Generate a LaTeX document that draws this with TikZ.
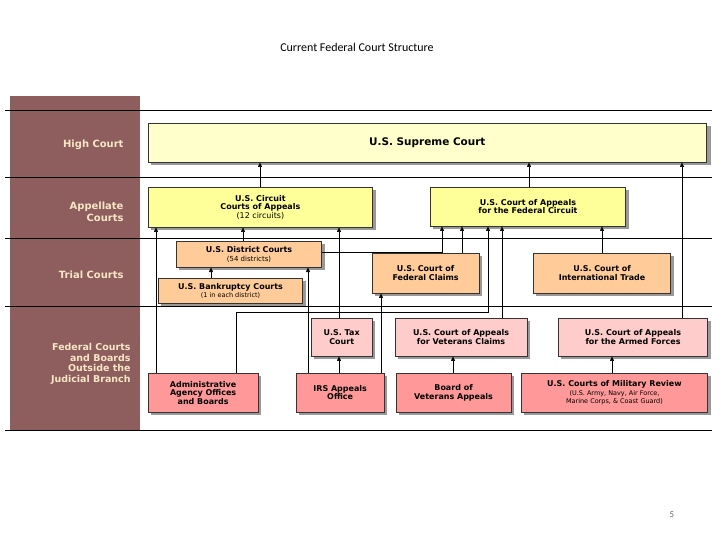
\documentclass[tikz,border=0pt]{standalone}
\usepackage{fontspec}
\setmainfont{DejaVu Sans}
\newfontfamily\titlefont{Carlito}
\usetikzlibrary{arrows.meta}
\definecolor{panel}{HTML}{8E5E5E}
\definecolor{paneltxt}{HTML}{F5E6C4}
\definecolor{ylight}{HTML}{FFFFCC}
\definecolor{ymid}{HTML}{FFFF99}
\definecolor{orng}{HTML}{FFCC99}
\definecolor{pinkl}{HTML}{FFCCCC}
\definecolor{pinkd}{HTML}{FF9999}
\begin{document}
\begin{tikzpicture}[x=1bp,y=-1bp,
  bx/.style={draw=black!80,line width=0.6pt,inner sep=0pt,align=center,font=\bfseries\fontsize{8}{8.6}\selectfont,
    drop shadow/.style={}},
  sh/.style={fill=black!35},
  lbl/.style={text=paneltxt,font=\bfseries\fontsize{10}{11.5}\selectfont,align=right,anchor=east},
  con/.style={line width=0.6pt},
  arr/.style={con,-{Triangle[length=4.5bp,width=4bp]}},
  sub/.style={font=\fontsize{7}{7.5}\selectfont}]
\useasboundingbox (0,0) rectangle (720,540);
\node[font=\titlefont\fontsize{12}{14}\selectfont] (title) at (357,47) {Current Federal Court Structure};
\node[font=\titlefont\fontsize{9}{10}\selectfont,text=black!60] (pg) at (672,515) {5};
\fill[panel] (10,96) rectangle (140,430);
\foreach \yy in {110,177,238,306,430} \draw[line width=0.5pt] (5,\yy) -- (712,\yy);
\node[lbl] (l1) at (127,145) {High Court};
\node[lbl] (l2) at (127,212) {Appellate\\Courts};
\node[lbl] (l3) at (127,275) {Trial Courts};
\node[lbl,font=\bfseries\fontsize{9.5}{10.5}\selectfont] (l4) at (134,364) {Federal Courts\\and Boards\\Outside the\\Judicial Branch};
% boxes: macro-like via \foreach not needed
\newcommand\mybox[7]{%
  \fill[black!40] (#2+3,#3+3) rectangle (#4+3,#5+3);
  \node[bx,fill=#6,minimum width=#4-#2,minimum height=#5-#3,anchor=north west] (#1) at (#2,#3) {#7};}
\mybox{sup}{148}{123}{708}{162}{ylight}{\fontsize{10.5}{12}\selectfont U.S. Supreme Court}
\mybox{cir}{148}{187}{373}{227}{ymid}{U.S. Circuit\\Courts of Appeals\\{\mdseries\fontsize{8}{8.6}\selectfont(12 circuits)}}
\mybox{fed}{430}{187}{626}{226}{ymid}{U.S. Court of Appeals\\for the Federal Circuit}
\mybox{dis}{176}{241}{322}{267}{orng}{U.S. District Courts\\{\mdseries\fontsize{7}{8}\selectfont(54 districts)}}
\mybox{bank}{158}{278}{303}{303}{orng}{U.S. Bankruptcy Courts\\{\mdseries\fontsize{6.5}{7}\selectfont(1 in each district)}}
\mybox{fcl}{372}{253}{479}{293}{orng}{U.S. Court of\\Federal Claims}
\mybox{cit}{533}{253}{671}{293}{orng}{U.S. Court of\\International Trade}
\mybox{tax}{311}{318}{372}{356}{pinkl}{U.S. Tax\\Court}
\mybox{vcl}{395}{318}{527}{356}{pinkl}{U.S. Court of Appeals\\for Veterans Claims}
\mybox{caf}{558}{318}{708}{356}{pinkl}{U.S. Court of Appeals\\for the Armed Forces}
\mybox{adm}{148}{373}{258}{412}{pinkd}{Administrative\\Agency Offices\\and Boards}
\mybox{irs}{296}{373}{384}{412}{pinkd}{IRS Appeals\\Office}
\mybox{bva}{396}{373}{511}{412}{pinkd}{Board of\\Veterans Appeals}
\mybox{cmr}{521}{373}{708}{412}{pinkd}{U.S. Courts of Military Review\\{\mdseries\fontsize{6.5}{7.5}\selectfont(U.S. Army, Navy, Air Force,}\\{\mdseries\fontsize{6.5}{7.5}\selectfont Marine Corps, \& Coast Guard)}}
% connectors
\draw[arr] (cir.north -| 260,0) -- (sup.south -| 260,0);
\draw[arr] (fed.north -| 529,0) -- (sup.south -| 529,0);
\draw[arr] (caf.north -| 682,0) -- (sup.south -| 682,0);
\draw[arr] (adm.north -| 156,0) -- (cir.south -| 156,0);
\draw[arr] (dis.north -| 243,0) -- (cir.south -| 243,0);
\draw[arr] (tax.north -| 339,0) -- (cir.south -| 339,0);
\draw[arr] (dis.east |- 0,252) -| (fed.south -| 442,0);
\draw[arr] (fcl.north -| 462,0) -- (fed.south -| 462,0);
\coordinate (k1) at (236,312);
\coordinate (k2) at (488,312);
\draw[arr] (adm.north -| 236,0) -- (k1) -- (k2) -- (fed.south -| 488,0);
\draw[arr] (vcl.north -| 502,0) -- (fed.south -| 502,0);
\draw[arr] (cit.north -| 602,0) -- (fed.south -| 602,0);
\draw[arr] (bank.north -| 211,0) -- (dis.south -| 211,0);
\draw[arr] (irs.north -| 308,0) -- (dis.south -| 308,0);
\draw[arr] (irs.north -| 381,0) -- (fcl.south -| 381,0);
\draw[arr] (irs.north -| 339,0) -- (tax.south -| 339,0);
\draw[arr] (bva.north -| 453,0) -- (vcl.south -| 453,0);
\draw[arr] (cmr.north -| 612,0) -- (caf.south -| 612,0);
\end{tikzpicture}
\end{document}
